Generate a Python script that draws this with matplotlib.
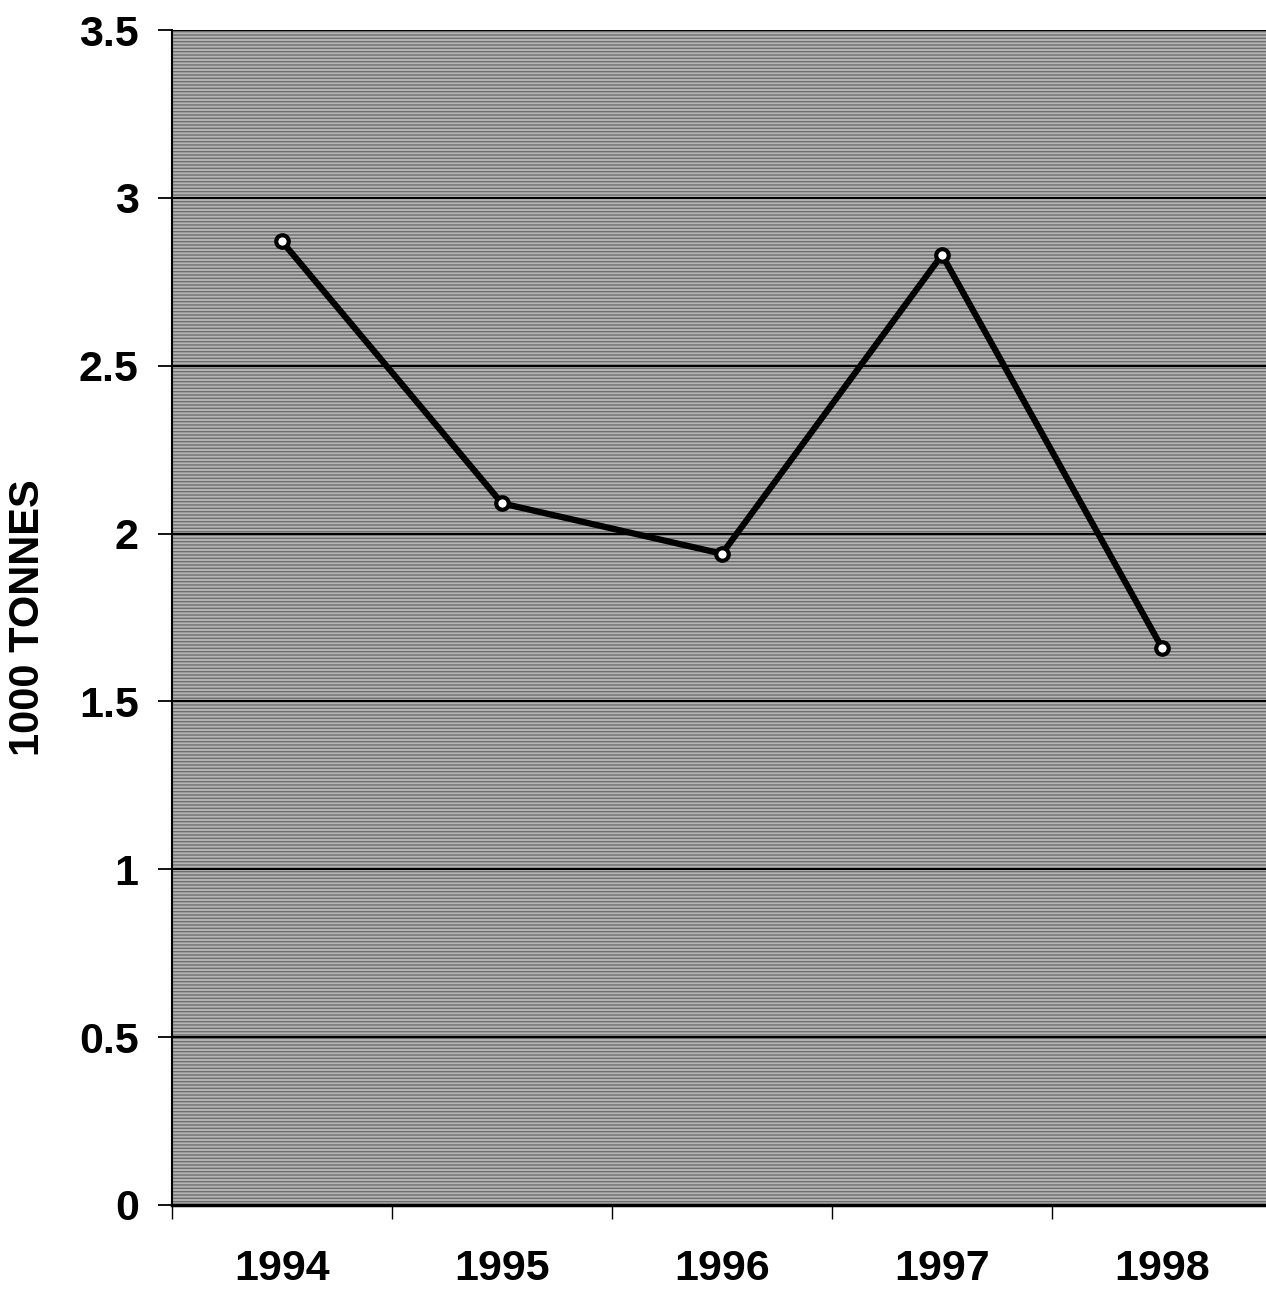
import numpy as np
import matplotlib.pyplot as plt
from matplotlib.patches import Rectangle

years = ['1994', '1995', '1996', '1997', '1998']
tonnes = [2.87, 2.09, 1.94, 2.83, 1.66]
y_ticks = [0, 0.5, 1, 1.5, 2, 2.5, 3, 3.5]
y_labels = ['0', '0.5', '1', '1.5', '2', '2.5', '3', '3.5']

plt.rcParams['font.family'] = ['Liberation Sans', 'DejaVu Sans']
plt.rcParams['font.weight'] = 'bold'
plt.rcParams['hatch.linewidth'] = 1.0

fig = plt.figure(figsize=(12.66, 12.91), dpi=100)
ax = fig.add_axes([172 / 1266, 1 - 1205 / 1291, 1100 / 1266, 1175 / 1291])
ax.set_facecolor('#b4b4b4')
# scanned-paper look: dense horizontal lines behind everything
ax.add_patch(Rectangle((0, 0), 1, 1, transform=ax.transAxes, facecolor='none',
                       edgecolor='#6e6e6e', hatch='-----', linewidth=0, zorder=0))

x = np.arange(len(years))
ax.plot(x, tonnes, color='black', linewidth=4.5, marker='o', markersize=9,
        markerfacecolor='white', markeredgecolor='black', markeredgewidth=3,
        zorder=3)

ax.set_xlim(-0.5, len(years) - 0.5)
ax.set_ylim(0, 3.5)
ax.set_yticks(y_ticks)
ax.set_yticklabels(y_labels)
ax.yaxis.grid(True, color='black', linewidth=1.5)
ax.set_axisbelow(True)

# category labels at centres, tick marks at the boundaries
ax.set_xticks(x)
ax.set_xticklabels(years)
ax.set_xticks(np.arange(-0.5, len(years), 1), minor=True)
ax.tick_params(axis='x', which='major', length=0, pad=32, labelsize=31)
ax.tick_params(axis='x', which='minor', length=10, width=1, color='black')
ax.tick_params(axis='y', length=10, width=1.3, pad=14, labelsize=31)

for side in ['top', 'right']:
    ax.spines[side].set_visible(False)
ax.spines['left'].set_linewidth(1.5)
ax.spines['bottom'].set_linewidth(2.5)

ax.set_ylabel('1000 TONNES', fontsize=30, fontweight='bold')
ax.yaxis.set_label_coords(-0.113, 0.5)

fig.savefig('out.png', dpi=100)
